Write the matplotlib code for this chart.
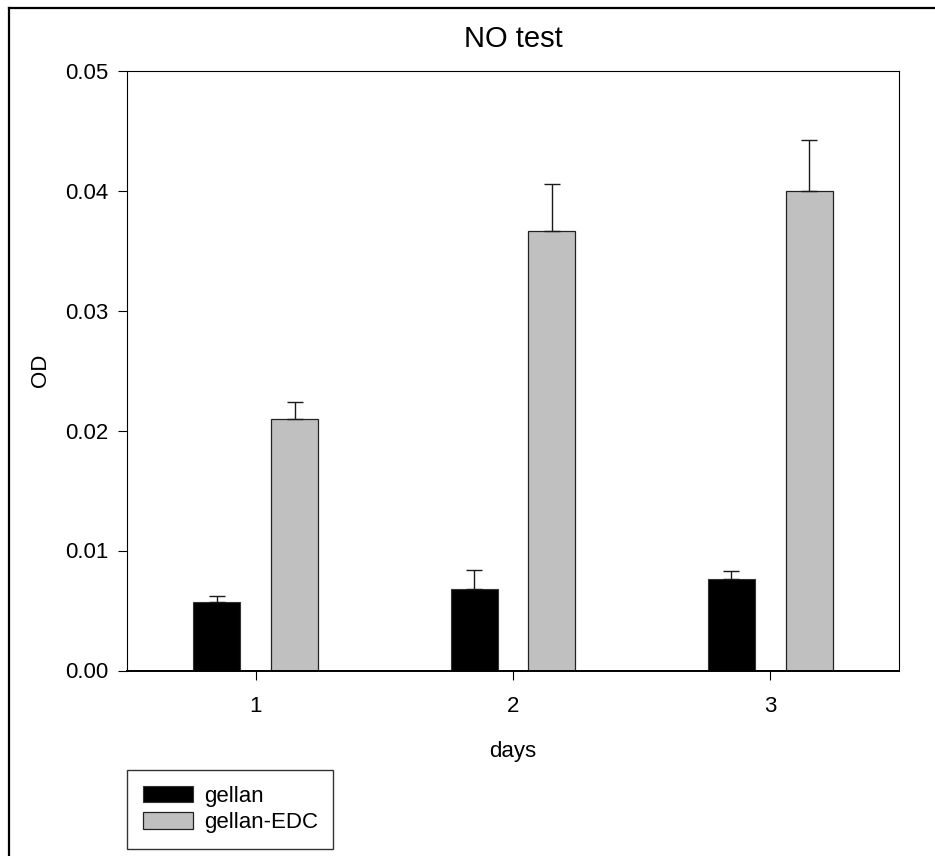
import numpy as np
import matplotlib
matplotlib.use('Agg')
import matplotlib.pyplot as plt
from matplotlib.lines import Line2D

plt.rcParams['font.family'] = ['Liberation Sans', 'DejaVu Sans']

# data
days = [1, 2, 3]
gellan = [0.00568, 0.00677, 0.00763]
gellan_err = [0.00052, 0.00161, 0.00067]
gellan_edc = [0.02093, 0.03663, 0.03996]
gellan_edc_err = [0.00142, 0.00391, 0.00425]
yticks = [0.00, 0.01, 0.02, 0.03, 0.04, 0.05]

W, H = 935, 856
fig = plt.figure(figsize=(W / 100, H / 100), dpi=100)
ax = fig.add_axes([127 / W, 1 - 670.5 / H, (899 - 127) / W, 600 / H])

x = np.array(days)
w = 0.183
off = 0.151
ekw = dict(elinewidth=1.0, capthick=1.0, ecolor='#1a1a1a')
ax.bar(x - off, gellan, w, color='black', edgecolor='#333333', linewidth=0.8,
       label='gellan', zorder=2)
ax.errorbar(x - off, gellan, yerr=[np.zeros(3), gellan_err], fmt='none',
            capsize=6, zorder=3, **ekw)
ax.bar(x + off, gellan_edc, w, color='#c0c0c0', edgecolor='#222222', linewidth=0.9,
       label='gellan-EDC', zorder=2)
ax.errorbar(x + off, gellan_edc, yerr=[np.zeros(3), gellan_edc_err], fmt='none',
            capsize=6, zorder=3, **ekw)

ax.set_xlim(0.5, 3.5)
ax.set_ylim(0, 0.05)
ax.set_xticks(days)
ax.set_yticks(yticks)
ax.set_yticklabels(['%.2f' % v for v in yticks])
ax.tick_params(direction='out', length=6.5, width=0.8, labelsize=16, pad=7)
ax.tick_params(axis='x', pad=12)
for s in ['left', 'top', 'right']:
    ax.spines[s].set_linewidth(0.8)
ax.spines['bottom'].set_linewidth(1.4)

ax.set_title('NO test', fontsize=21, pad=17)
ax.set_xlabel('days', fontsize=16, labelpad=17)
ax.set_ylabel('OD', fontsize=16, labelpad=10)

leg = fig.legend(loc='upper left', bbox_to_anchor=(127 / W, 1 - 770 / H),
                 fontsize=16, frameon=True, fancybox=False, handlelength=2.25,
                 handleheight=0.77, labelspacing=0.25, borderpad=0.7,
                 handletextpad=0.5, borderaxespad=0)
leg.get_frame().set_edgecolor('black')
leg.get_frame().set_linewidth(1.0)

# outer frame (only top and left visible in the picture)
fig.add_artist(Line2D([8.5 / W, 1.0], [1 - 7.5 / H, 1 - 7.5 / H], color='black', lw=1.6,
                      transform=fig.transFigure))
fig.add_artist(Line2D([8.5 / W, 8.5 / W], [1 - 7.5 / H, 0.0], color='black', lw=1.6,
                      transform=fig.transFigure))

fig.savefig('out.png', dpi=100)
